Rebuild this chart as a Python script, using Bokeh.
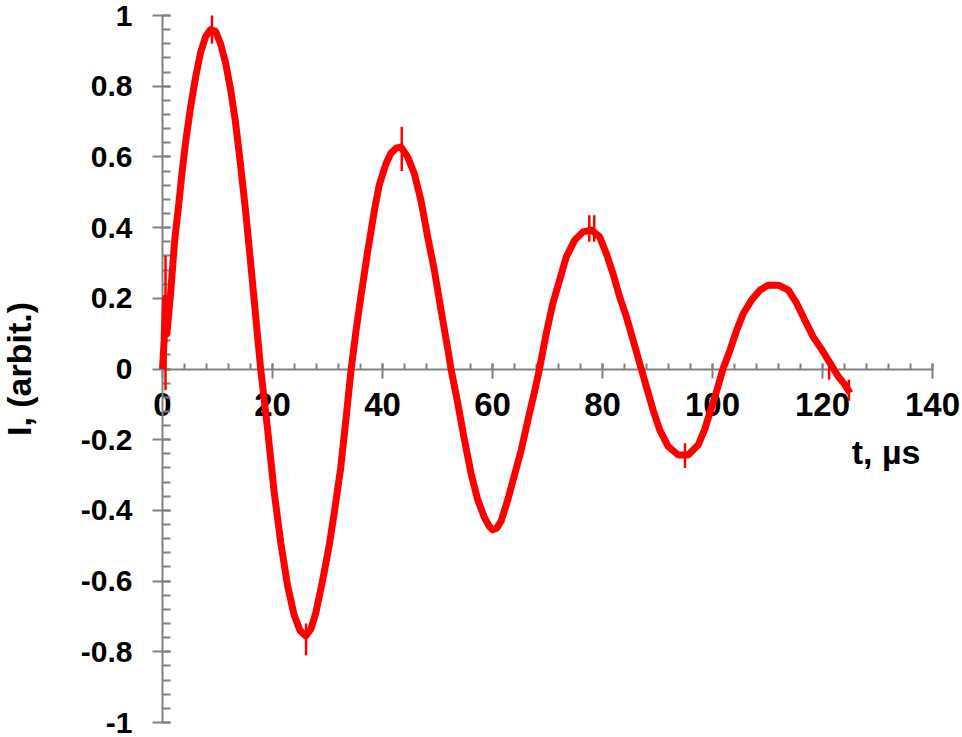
from bokeh.plotting import figure
from bokeh.models import (LinearAxis, FixedTicker, CustomJSTickFormatter, Label,
                          ColumnDataSource, Range1d)
from bokeh.embed import file_html
from bokeh.resources import INLINE

# ---- data ----
t_us = [0.0, 0.3, 0.55, 0.8, 1.46, 2.19, 2.98, 3.58, 4.19, 5.10, 6.01, 6.92, 7.83,
        8.74, 9.65, 10.56, 11.48, 12.39, 13.30, 14.21, 15.12, 16.03, 16.94, 17.85,
        19.07, 20.28, 21.49, 22.71, 23.92, 25.0, 26.05, 27.0, 27.87, 29.09, 30.3,
        31.2, 32.4, 33.3, 34.3, 35.2, 36.07, 37.28, 38.49, 39.4, 40.62, 41.5, 42.5,
        43.35, 44.57, 45.78, 46.99, 48.2, 49.42, 50.64, 51.85, 52.46, 53.68, 54.89,
        56.1, 57.32, 58.53, 59.4, 60.05, 60.8, 61.57, 62.78, 63.99, 65.21, 66.43,
        67.63, 68.54, 69.76, 70.98, 72.19, 73.41, 74.92, 76.45, 77.96, 79.47, 80.69,
        81.91, 83.11, 84.34, 85.56, 86.76, 87.98, 89.2, 90.4, 91.93, 93.75, 95.57,
        97.4, 98.6, 99.8, 100.7, 101.9, 103.2, 104.4, 105.6, 107.1, 108.6, 110.1,
        112.0, 113.8, 115.3, 116.8, 118.3, 119.9, 121.4, 122.9, 124.1, 125.0]
current = [0.0, 0.08, 0.2, 0.1, 0.21, 0.36, 0.47, 0.56, 0.64, 0.74, 0.825, 0.895, 0.94,
           0.96, 0.955, 0.92, 0.865, 0.79, 0.695, 0.575, 0.445, 0.30, 0.15, 0.0,
           -0.165, -0.345, -0.49, -0.61, -0.695, -0.74, -0.755, -0.735, -0.69, -0.60, -0.50,
           -0.41, -0.28, -0.15, 0.0, 0.11, 0.205, 0.33, 0.445, 0.52, 0.58, 0.61, 0.625,
           0.628, 0.60, 0.553, 0.477, 0.375, 0.28, 0.167, 0.058, 0.0, -0.097, -0.20,
           -0.295, -0.37, -0.42, -0.445, -0.455, -0.45, -0.43, -0.37, -0.30, -0.23, -0.145,
           -0.065, 0.0, 0.10, 0.186, 0.251, 0.317, 0.364, 0.388, 0.393, 0.374, 0.327,
           0.27, 0.204, 0.148, 0.082, 0.016, -0.05, -0.116, -0.172, -0.219, -0.243, -0.243,
           -0.215, -0.17, -0.11, -0.065, 0.0, 0.054, 0.11, 0.157, 0.195, 0.223, 0.237,
           0.237, 0.223, 0.186, 0.138, 0.091, 0.054, 0.016, -0.022, -0.045, -0.068]

# narrow noise spikes visible on the trace
spike_t = [0.55, 9.0, 26.1, 43.5, 77.6, 78.5, 95.0, 121.2, 124.8]
spike_lo = [-0.06, 0.92, -0.81, 0.56, 0.36, 0.36, -0.28, -0.03, -0.09]
spike_hi = [0.32, 1.0, -0.72, 0.685, 0.435, 0.435, -0.21, 0.03, -0.03]

x_ticks = [0, 20, 40, 60, 80, 100, 120, 140]
x_tick_labels = ["0", "20", "40", "60", "80", "100", "120", "140"]
y_ticks = [-1, -0.8, -0.6, -0.4, -0.2, 0, 0.2, 0.4, 0.6, 0.8, 1]
y_tick_labels = ["-1", "-0.8", "-0.6", "-0.4", "-0.2", "0", "0.2", "0.4", "0.6", "0.8", "1"]
x_title = "t, µs"
y_title = "I, (arbit.)"

x_minor = [4 * i for i in range(36)]
y_minor = [round(-1 + 0.04 * i, 2) for i in range(51)]

FONT = "Liberation Sans"
AXIS_COLOR = "#808080"

W, H = 960, 737
X0_PX, X1_PX = 162.0, 932.0      # screen position of t=0 and t=140
Y1_PX, YM1_PX = 15.0, 722.0      # screen position of I=1 and I=-1
sx = (X1_PX - X0_PX) / 140.0
sy = (YM1_PX - Y1_PX) / 2.0
x_range = Range1d(-X0_PX / sx, 140 + (W - X1_PX) / sx)
y_range = Range1d(-1 - (H - YM1_PX) / sy, 1 + Y1_PX / sy)

p = figure(width=W, height=H, x_range=x_range, y_range=y_range,
           output_backend="svg", toolbar_location=None,
           x_axis_type=None, y_axis_type=None,
           min_border_left=0, min_border_right=0, min_border_top=0, min_border_bottom=0)
p.outline_line_color = None
p.background_fill_color = "white"
p.border_fill_color = "white"
p.xgrid.visible = False
p.ygrid.visible = False


def fmt(vals, labs):
    return CustomJSTickFormatter(args=dict(vals=vals, labs=labs), code="""
        for (let i = 0; i < vals.length; i++) {
            if (Math.abs(vals[i] - tick) < 1e-6) { return labs[i]; }
        }
        return '';
    """)


def style(ax, size):
    ax.axis_line_color = AXIS_COLOR
    ax.axis_line_width = 2
    ax.major_tick_line_color = AXIS_COLOR
    ax.major_tick_line_width = 2
    ax.minor_tick_line_color = AXIS_COLOR
    ax.minor_tick_line_width = 2
    ax.minor_tick_out = 0
    ax.major_label_text_font = FONT
    ax.major_label_text_font_style = "bold"
    ax.major_label_text_font_size = size
    ax.major_label_text_color = "black"


yaxis = LinearAxis(ticker=FixedTicker(ticks=y_ticks, minor_ticks=y_minor),
                   formatter=fmt(y_ticks, y_tick_labels), fixed_location=0, bounds=(-1, 1))
style(yaxis, "30px")
yaxis.major_tick_out = 10
yaxis.major_tick_in = 8
yaxis.minor_tick_in = 8
yaxis.major_label_standoff = 20
yaxis.axis_label = y_title
yaxis.axis_label_text_font = FONT
yaxis.axis_label_text_font_style = "bold"
yaxis.axis_label_text_font_size = "34px"
yaxis.axis_label_text_color = "black"
yaxis.axis_label_standoff = 40
p.add_layout(yaxis, "left")

xaxis = LinearAxis(ticker=FixedTicker(ticks=x_ticks, minor_ticks=x_minor),
                   formatter=fmt(x_ticks, x_tick_labels), fixed_location=0, bounds=(0, 140))
style(xaxis, "33px")
xaxis.major_tick_out = 9
xaxis.major_tick_in = 6
xaxis.minor_tick_in = 6
xaxis.major_label_standoff = 15
p.add_layout(xaxis, "below")

src = ColumnDataSource(data=dict(t=t_us, i=current))
r = p.line("t", "i", source=src, line_color="#ff0000", line_width=7, line_join="round")
r.level = "overlay"

spk = ColumnDataSource(data=dict(t=spike_t, lo=spike_lo, hi=spike_hi))
r2 = p.segment(x0="t", y0="lo", x1="t", y1="hi", source=spk, line_color="#ff0000", line_width=2.5)
r2.level = "overlay"

p.add_layout(Label(x=137.8, y=-0.235, text=x_title, text_align="right", text_baseline="middle",
                   text_font=FONT, text_font_style="bold", text_font_size="34px",
                   text_color="black"))

open("out.html", "w").write(file_html(p, INLINE))
